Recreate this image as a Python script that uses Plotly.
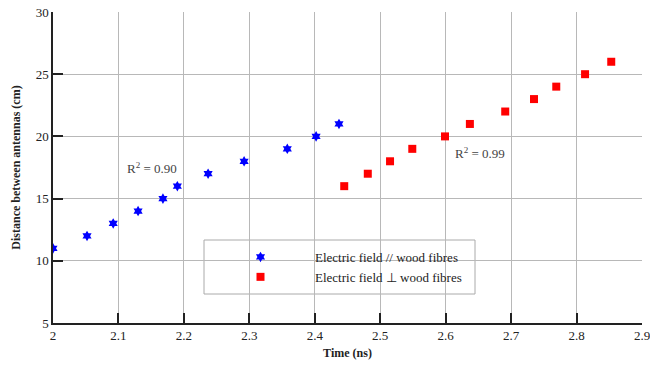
import plotly.graph_objects as go

par_time = [2.0, 2.052, 2.092, 2.130, 2.168, 2.190, 2.237, 2.292, 2.358, 2.402, 2.437]
par_dist = [11, 12, 13, 14, 15, 16, 17, 18, 19, 20, 21]
perp_time = [2.445, 2.481, 2.515, 2.549, 2.599, 2.637, 2.691, 2.735, 2.769, 2.813, 2.853]
perp_dist = [16, 17, 18, 19, 20, 21, 22, 23, 24, 25, 26]
x_ticks = [2, 2.1, 2.2, 2.3, 2.4, 2.5, 2.6, 2.7, 2.8, 2.9]
y_ticks = [5, 10, 15, 20, 25, 30]

serif = "Liberation Serif"

fig = go.Figure()
fig.add_trace(go.Scatter(x=par_time, y=par_dist, mode="markers",
                         name="Electric field // wood fibres",
                         marker=dict(symbol="hexagram", size=8, color="#0000ff",
                                     line=dict(width=0))))
fig.add_trace(go.Scatter(x=perp_time, y=perp_dist, mode="markers",
                         name="Electric field \u22a5 wood fibres",
                         marker=dict(symbol="square", size=8, color="#ff0000",
                                     line=dict(width=0))))

fig.add_annotation(x=2.151, y=17.45, text="R<sup>2</sup> = 0.90", showarrow=False,
                   font=dict(family=serif, size=13, color="#444"))
fig.add_annotation(x=2.652, y=18.7, text="R<sup>2</sup> = 0.99", showarrow=False,
                   font=dict(family=serif, size=13, color="#444"))

L, R, T, B = 53, 8, 12, 42
pw, ph = 650 - L - R, 365 - T - B

fig.add_shape(type="rect", xref="paper", yref="paper",
              x0=(204 - L) / pw, x1=(475 - L) / pw,
              y0=(365 - B - 294) / ph, y1=(365 - B - 240) / ph,
              line=dict(color="#aaaaaa", width=1), fillcolor="white", layer="below")

fig.update_layout(
    width=650, height=365, autosize=False,
    margin=dict(l=L, r=R, t=T, b=B),
    paper_bgcolor="white", plot_bgcolor="white",
    font=dict(family=serif, size=13, color="#222"),
    showlegend=True,
    legend=dict(x=(206 - L) / pw, y=(365 - B - 242) / ph, xanchor="left", yanchor="top",
                bgcolor="rgba(0,0,0,0)", borderwidth=0, itemwidth=99,
                font=dict(family=serif, size=13, color="#222"), tracegroupgap=0),
    xaxis=dict(range=[2, 2.9], tickvals=x_ticks, ticktext=[str(v) for v in x_ticks],
               ticklabeloverflow="allow", automargin=False,
               showgrid=True, gridcolor="#b8b8b8", gridwidth=1,
               showline=True, linecolor="#222", linewidth=1.5,
               ticks="inside", ticklen=10, tickcolor="#222", tickwidth=1.5,
               zeroline=False, title=dict(text="<b>Time (ns)</b>", standoff=6,
                                          font=dict(family=serif, size=12))),
    yaxis=dict(range=[5, 30], tickvals=y_ticks, automargin=False,
               ticklabeloverflow="allow",
               showgrid=True, gridcolor="#b8b8b8", gridwidth=1,
               showline=True, linecolor="#222", linewidth=1.5,
               ticks="inside", ticklen=10, tickcolor="#222", tickwidth=1.5,
               zeroline=False,
               title=dict(text="<b>Distance between antennas (cm)</b>", standoff=12,
                          font=dict(family=serif, size=12))),
)
fig.write_html("out.html", config={"responsive": False},
               post_script="document.body.style.margin='0';")
